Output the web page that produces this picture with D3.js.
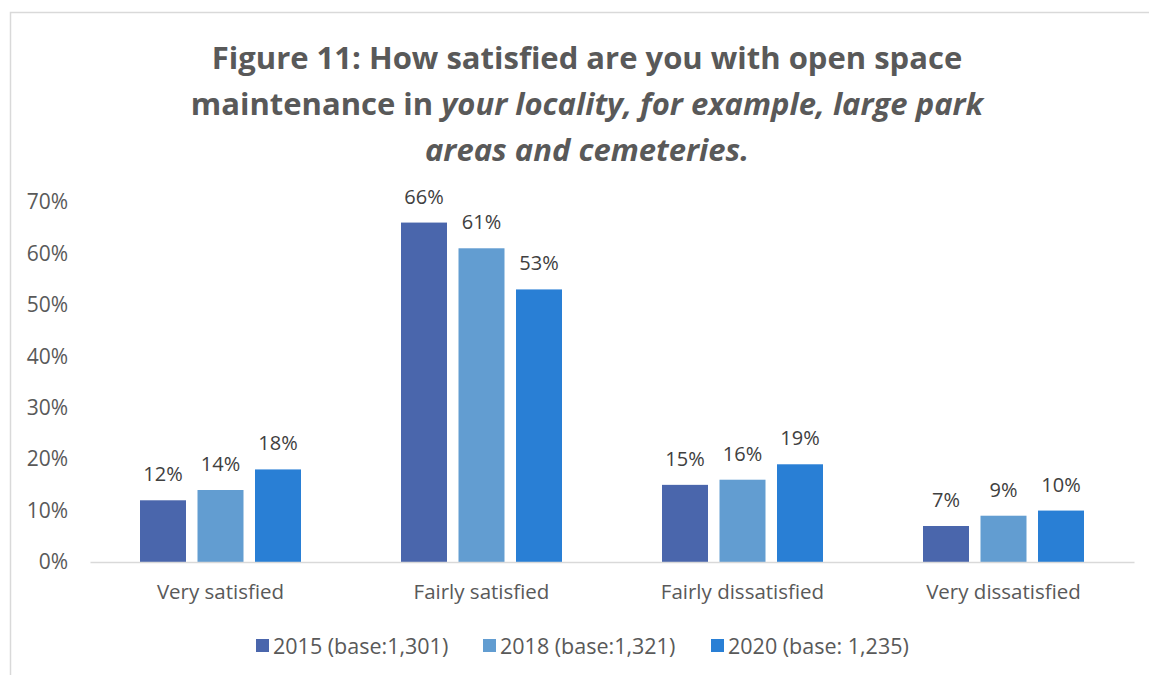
<!DOCTYPE html>
<html>
<head>
<meta charset="utf-8">
<title>Figure 11</title>
<script src="https://d3js.org/d3.v7.min.js"></script>
<style>
  body { margin: 0; background: #fff; }
  svg { display: block; font-family: "Open Sans", sans-serif; }
</style>
</head>
<body>
<svg width="1149" height="675"></svg>
<script>

var categories = ["Very satisfied", "Fairly satisfied", "Fairly dissatisfied", "Very dissatisfied"];
var seriesNames = ["2015 (base:1,301)", "2018 (base:1,321)", "2020 (base: 1,235)"];
var values2015 = [12, 66, 15, 7];
var values2018 = [14, 61, 16, 9];
var values2020 = [18, 53, 19, 10];
var yTicks = [0, 10, 20, 30, 40, 50, 60, 70];

var allValues = [values2015, values2018, values2020];
var colors = ["#4a66ac", "#629dd1", "#297fd5"];

var svg = d3.select("svg");

// chart frame (only top and left edges visible in the reference)
svg.append("path")
    .attr("d", "M10.5,675 V12.5 H1149")
    .attr("fill", "none")
    .attr("stroke", "#d9d9d9")
    .attr("stroke-width", 1.5);

// title
var title = svg.append("text")
    .attr("text-anchor", "middle")
    .attr("font-weight", "bold")
    .attr("font-size", 31)
    .attr("fill", "#595959");

title.append("tspan").attr("x", 587).attr("y", 69)
    .text("Figure 11: How satisfied are you with open space");
var l2 = title.append("tspan").attr("x", 587).attr("y", 115);
l2.append("tspan").text("maintenance in ");
l2.append("tspan").attr("font-style", "italic").text("your locality, for example, large park");
title.append("tspan").attr("x", 587).attr("y", 161)
    .attr("font-style", "italic").text("areas and cemeteries.");

var x0 = d3.scaleBand().domain(categories).range([90, 1134]);
var x1 = d3.scaleBand().domain(seriesNames).range([50, 211]).paddingInner(0.2);
var y = d3.scaleLinear().domain([0, 70]).range([562, 202]);

// y axis labels
var yAxis = svg.append("g")
    .attr("transform", "translate(68,0)")
    .call(d3.axisLeft(y).tickValues(yTicks).tickSize(0).tickPadding(0)
      .tickFormat(function(d) { return d + "%"; }));
yAxis.select(".domain").remove();
yAxis.selectAll("text")
    .attr("font-family", "'Open Sans', sans-serif")
    .attr("font-size", 21)
    .attr("fill", "#595959");

// bars
var groups = svg.selectAll(".cat")
    .data(categories)
  .enter().append("g")
    .attr("class", "cat")
    .attr("transform", function(d) { return "translate(" + x0(d) + ",0)"; });

groups.selectAll("rect")
    .data(function(d, i) { return seriesNames.map(function(s, j) { return {s: s, j: j, v: allValues[j][i]}; }); })
  .enter().append("rect")
    .attr("x", function(d) { return x1(d.s); })
    .attr("y", function(d) { return y(d.v); })
    .attr("width", x1.bandwidth())
    .attr("height", function(d) { return y(0) - y(d.v); })
    .attr("fill", function(d) { return colors[d.j]; });

groups.selectAll(".lbl")
    .data(function(d, i) { return seriesNames.map(function(s, j) { return {s: s, j: j, v: allValues[j][i]}; }); })
  .enter().append("text")
    .attr("class", "lbl")
    .attr("x", function(d) { return x1(d.s) + x1.bandwidth() / 2; })
    .attr("y", function(d) { return y(d.v) - 19; })
    .attr("text-anchor", "middle")
    .attr("font-size", 20)
    .attr("fill", "#404040")
    .text(function(d) { return d.v + "%"; });

// x axis baseline + category labels
var xAxis = svg.append("g")
    .attr("transform", "translate(0," + y(0) + ")")
    .call(d3.axisBottom(x0).tickSize(0).tickPadding(0));
xAxis.select(".domain").attr("stroke", "#d9d9d9").attr("stroke-width", 1.5);
xAxis.selectAll("text")
    .attr("font-family", "'Open Sans', sans-serif")
    .attr("font-size", 20.5)
    .attr("fill", "#595959")
    .attr("dy", 0)
    .attr("y", 37);

// legend
var legendX = [256, 483, 711];
var legend = svg.selectAll(".leg")
    .data(seriesNames)
  .enter().append("g")
    .attr("class", "leg")
    .attr("transform", function(d, i) { return "translate(" + legendX[i] + ",639)"; });
legend.append("rect")
    .attr("width", 13).attr("height", 13)
    .attr("fill", function(d, i) { return colors[i]; });
legend.append("text")
    .attr("x", 17).attr("y", 14.5)
    .attr("font-size", 21.5)
    .attr("fill", "#595959")
    .text(function(d) { return d; });

</script>
</body>
</html>
